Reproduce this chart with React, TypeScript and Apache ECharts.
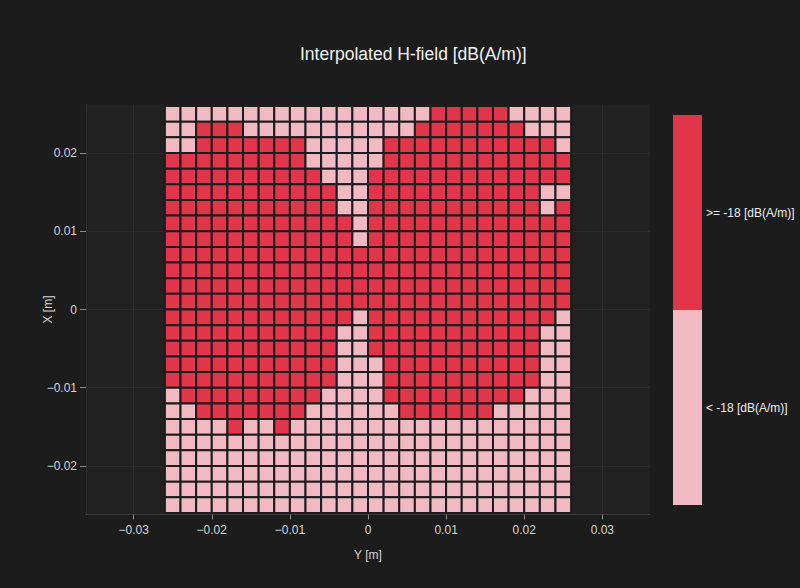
import React, { useEffect, useRef } from "react";
import * as echarts from "echarts";

// Y [m] centres of the grid columns (left to right)
const yCenters = [
  -0.025, -0.023, -0.021, -0.019, -0.017, -0.015, -0.013, -0.011, -0.009, -0.007, -0.005, -0.003, -0.001,
  0.001, 0.003, 0.005, 0.007, 0.009, 0.011, 0.013, 0.015, 0.017, 0.019, 0.021, 0.023, 0.025,
];
// X [m] centres of the grid rows (top to bottom)
const xCenters = [
  0.025, 0.023, 0.021, 0.019, 0.017, 0.015, 0.013, 0.011, 0.009, 0.007, 0.005, 0.003, 0.001,
  -0.001, -0.003, -0.005, -0.007, -0.009, -0.011, -0.013, -0.015, -0.017, -0.019, -0.021, -0.023, -0.025,
];
// 1 = ">= -18 dB(A/m)", 0 = "< -18 dB(A/m)"; one string per row, top to bottom
const levelRows = [
  "00000000000000000111110000",
  "00111000000000001111111000",
  "00111111100000111111111110",
  "11111111100000111111111111",
  "11111111110001111111111111",
  "11111111111001111111111100",
  "11111111111001111111111101",
  "11111111111101111111111111",
  "11111111111101111111111111",
  "11111111111111111111111111",
  "11111111111111111111111111",
  "11111111111111111111111111",
  "11111111111111111111111111",
  "11111111111101111111111110",
  "11111111111001111111111100",
  "11111111111001111111111100",
  "11111111111000111111111100",
  "11111111111000111111111100",
  "01111111110000111111111000",
  "00111111100000011111100000",
  "00001001000000000000000000",
  "00000000000000000000000000",
  "00000000000000000000000000",
  "00000000000000000000000000",
  "00000000000000000000000000",
  "00000000000000000000000000",
];
const cellSize = 0.002;
const levelLabels = [">= -18 [dB(A/m)]", "< -18 [dB(A/m)]"];
const xTickValues = [-0.03, -0.02, -0.01, 0, 0.01, 0.02, 0.03];
const yTickValues = [-0.02, -0.01, 0, 0.01, 0.02];

const RED = "#e0354a";
const PINK = "#f1bac3";
const FONT = "'Liberation Sans', Arial, sans-serif";

function fmt(v: number): string {
  const s = String(Number(v.toFixed(4)));
  return s.replace("-", "\u2212");
}

export default function App() {
  const ref = useRef<HTMLDivElement>(null);
  useEffect(() => {
    document.body.style.margin = "0";
    document.body.style.background = "#1c1c1c";
    const chart = echarts.init(ref.current!, null, { renderer: "svg" });
    const data: number[][] = [];
    levelRows.forEach((row, r) => {
      for (let c = 0; c < row.length; c++) {
        data.push([yCenters[c], xCenters[r], Number(row[c])]);
      }
    });
    chart.setOption({
      animation: false,
      backgroundColor: "#1c1c1c",
      textStyle: { fontFamily: FONT },
      title: {
        text: "Interpolated H-field [dB(A/m)]",
        left: 295,
        top: 40,
        textStyle: { color: "#f2f2f2", fontSize: 17.5, fontWeight: "normal", fontFamily: FONT },
      },
      grid: {
        left: 86,
        top: 104.5,
        width: 564,
        height: 410,
        show: true,
        backgroundColor: "#212121",
        borderWidth: 0,
      },
      xAxis: {
        type: "value",
        min: -0.0361,
        max: 0.0361,
        name: "Y [m]",
        nameLocation: "middle",
        nameGap: 34,
        nameMoveOverlap: false,
        nameTextStyle: { color: "#d6d6d6", fontSize: 12, fontFamily: FONT },
        axisLine: { show: true, onZero: false, lineStyle: { color: "#3a3a3a", width: 1 } },
        axisTick: { show: true, length: 5, customValues: xTickValues, lineStyle: { color: "#8a8a8a" } },
        axisLabel: {
          customValues: xTickValues,
          formatter: (v: number) => fmt(v),
          color: "#d6d6d6",
          fontSize: 12,
          margin: 9,
          fontFamily: FONT,
        },
        splitLine: { show: true, lineStyle: { color: "#2b2b2b", width: 1 } },
      },
      yAxis: {
        type: "value",
        min: -0.0262,
        max: 0.0262,
        name: "X [m]",
        nameLocation: "middle",
        nameGap: 32,
        nameMoveOverlap: false,
        nameRotate: 90,
        nameTextStyle: { color: "#d6d6d6", fontSize: 12, fontFamily: FONT },
        axisLine: { show: true, onZero: false, lineStyle: { color: "#2e2e2e", width: 1 } },
        axisTick: { show: true, length: 6, customValues: yTickValues, lineStyle: { color: "#8a8a8a" } },
        axisLabel: {
          customValues: yTickValues,
          formatter: (v: number) => fmt(v),
          color: "#d6d6d6",
          fontSize: 12,
          margin: 9,
          fontFamily: FONT,
        },
        splitLine: { show: true, lineStyle: { color: "#2b2b2b", width: 1 } },
      },
      visualMap: {
        type: "piecewise",
        dimension: 2,
        seriesIndex: 0,
        orient: "vertical",
        align: "left",
        left: 673,
        top: 115,
        padding: 0,
        itemWidth: 29,
        itemHeight: 195,
        itemGap: 0,
        itemSymbol: "rect",
        textGap: 4,
        selectedMode: false,
        hoverLink: false,
        pieces: [
          { value: 1, label: levelLabels[0], color: RED },
          { value: 0, label: levelLabels[1], color: PINK },
        ],
        textStyle: { color: "#eeeeee", fontSize: 12, fontFamily: FONT },
      },
      series: [
        {
          type: "custom",
          coordinateSystem: "cartesian2d",
          data,
          encode: { x: 0, y: 1 },
          renderItem: (params: any, api: any) => {
            const p = api.coord([api.value(0), api.value(1)]);
            const s = api.size([cellSize, cellSize]);
            const w = Math.abs(s[0]);
            const h = Math.abs(s[1]);
            return {
              type: "rect",
              shape: { x: p[0] - w / 2, y: p[1] - h / 2, width: w, height: h },
              style: { fill: api.visual("color"), stroke: "#1c1c1c", lineWidth: 2 },
            };
          },
        },
      ],
    });
    return () => chart.dispose();
  }, []);
  return <div ref={ref} style={{ width: 800, height: 588 }} />;
}
